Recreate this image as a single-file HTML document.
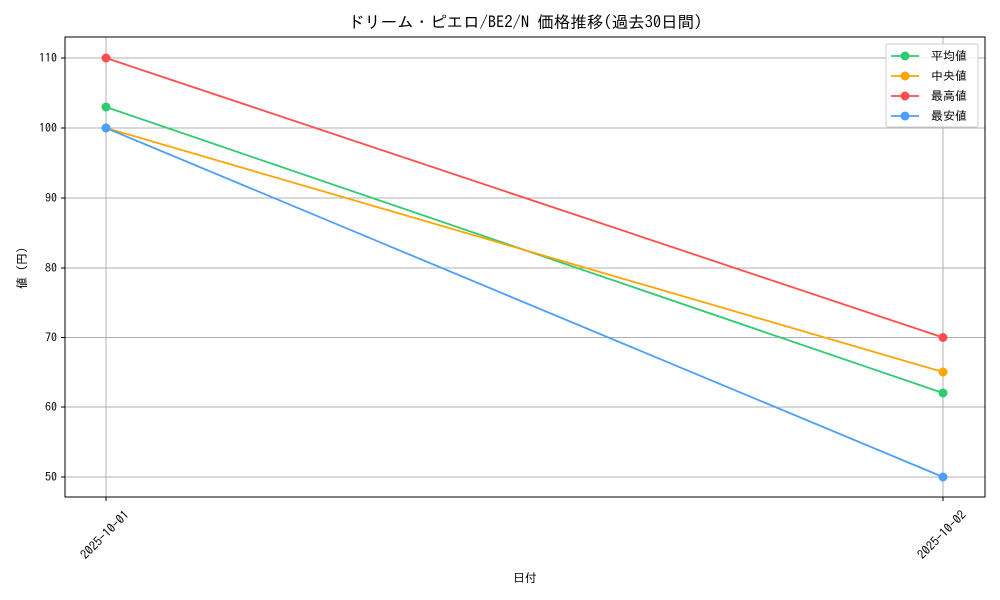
<!DOCTYPE html>
<html><head><meta charset="utf-8"><style>
html,body{margin:0;padding:0;background:#fff;}
svg{display:block;}
text{font-family:"IPAGothic","Noto Sans CJK JP",monospace;fill:#000;}
</style></head><body>
<svg width="1000" height="600" viewBox="0 0 1000 600" xmlns="http://www.w3.org/2000/svg">
<rect width="1000" height="600" fill="#fff"/>
<g stroke="#b0b0b0" stroke-width="1">
<line x1="65" x2="985" y1="58" y2="58"/>
<line x1="65" x2="985" y1="128" y2="128"/>
<line x1="65" x2="985" y1="198" y2="198"/>
<line x1="65" x2="985" y1="268" y2="268"/>
<line x1="65" x2="985" y1="337.5" y2="337.5"/>
<line x1="65" x2="985" y1="407" y2="407"/>
<line x1="65" x2="985" y1="477" y2="477"/>
<line x1="106" x2="106" y1="37" y2="497"/>
<line x1="943" x2="943" y1="37" y2="497"/>
</g>
<rect x="65" y="37" width="920" height="460" fill="none" stroke="#000" stroke-width="1"/>
<g stroke="#000">
<line x1="61" x2="65" y1="58" y2="58"/><line x1="61" x2="65" y1="128" y2="128"/>
<line x1="61" x2="65" y1="198" y2="198"/><line x1="61" x2="65" y1="268" y2="268"/>
<line x1="61" x2="65" y1="337.5" y2="337.5"/><line x1="61" x2="65" y1="407" y2="407"/>
<line x1="61" x2="65" y1="477" y2="477"/>
<line x1="106" x2="106" y1="497" y2="501"/><line x1="943" x2="943" y1="497" y2="501"/>
</g>
<g font-size="12" text-anchor="end">
<text x="57" y="62">110</text><text x="57" y="132">100</text><text x="57" y="202">90</text>
<text x="57" y="272">80</text><text x="57" y="341.5">70</text><text x="57" y="411">60</text>
<text x="57" y="481">50</text>
</g>
<g font-size="12.5" text-anchor="middle">
<text transform="translate(105,535) rotate(-45)" dy="4">2025-10-01</text>
<text transform="translate(942,535) rotate(-45)" dy="4">2025-10-02</text>
</g>
<text x="525" y="582" font-size="12" text-anchor="middle">日付</text>
<text transform="translate(26,268) rotate(-90)" font-size="12" text-anchor="middle">値 (円)</text>
<text x="525" y="28" font-size="16.5" text-anchor="middle">ドリーム・ピエロ/BE2/N 価格推移(過去30日間)</text>
<g stroke-width="1.8" fill="none">
<line x1="106" y1="107" x2="943" y2="393" stroke="#2ecc71"/>
<line x1="106" y1="128" x2="943" y2="372" stroke="#ffa500"/>
<line x1="106" y1="58" x2="943" y2="337.5" stroke="#ff4d4d"/>
<line x1="106" y1="128" x2="943" y2="477" stroke="#4d9fff"/>
</g>
<circle cx="106" cy="107" r="4.5" fill="#2ecc71"/><circle cx="943" cy="393" r="4.5" fill="#2ecc71"/>
<circle cx="106" cy="128" r="4.5" fill="#ffa500"/><circle cx="943" cy="372" r="4.5" fill="#ffa500"/>
<circle cx="106" cy="58" r="4.5" fill="#ff4d4d"/><circle cx="943" cy="337.5" r="4.5" fill="#ff4d4d"/>
<circle cx="106" cy="128" r="4.5" fill="#4d9fff"/><circle cx="943" cy="477" r="4.5" fill="#4d9fff"/>
<rect x="886" y="44" width="92" height="83" rx="2" fill="#fff" fill-opacity="0.8" stroke="#ccc"/>
<g stroke-width="1.8">
<line x1="891" x2="919" y1="56" y2="56" stroke="#2ecc71"/><circle cx="905" cy="56" r="4.5" fill="#2ecc71"/>
<line x1="891" x2="919" y1="76" y2="76" stroke="#ffa500"/><circle cx="905" cy="76" r="4.5" fill="#ffa500"/>
<line x1="891" x2="919" y1="96" y2="96" stroke="#ff4d4d"/><circle cx="905" cy="96" r="4.5" fill="#ff4d4d"/>
<line x1="891" x2="919" y1="116" y2="116" stroke="#4d9fff"/><circle cx="905" cy="116" r="4.5" fill="#4d9fff"/>
</g>
<g font-size="12">
<text x="931" y="60">平均値</text><text x="931" y="80">中央値</text>
<text x="931" y="100">最高値</text><text x="931" y="120">最安値</text>
</g>
</svg>
</body></html>
